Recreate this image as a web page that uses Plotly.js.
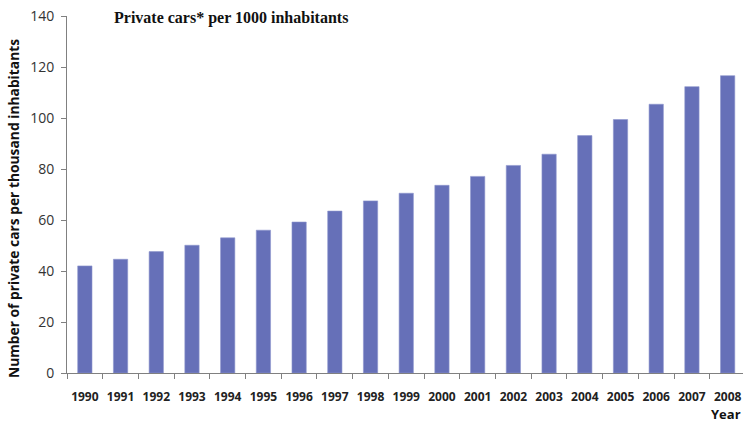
<!DOCTYPE html>
<html>
<head>
<meta charset="utf-8">
<script src="https://cdn.plot.ly/plotly-3.0.1.min.js"></script>
<style>html,body{margin:0;padding:0;background:#fff;}#chart{width:743px;height:422px;}</style>
</head>
<body>
<div id="chart"></div>
<script>
const years = ["1990","1991","1992","1993","1994","1995","1996","1997","1998","1999","2000","2001","2002","2003","2004","2005","2006","2007","2008"];
const carsPer1000 = [42, 44.6, 47.6, 50.1, 53, 56, 59.2, 63.5, 67.5, 70.5, 73.6, 77.1, 81.4, 85.8, 93.1, 99.4, 105.4, 112.3, 116.6];
const yTicks = [0, 20, 40, 60, 80, 100, 120, 140];
const chartTitle = "Private cars* per 1000 inhabitants";
const yTitle = "Number of private cars per thousand inhabitants";
const xTitle = "Year";

const trace = {
  type: "bar",
  x: years,
  y: carsPer1000,
  marker: {color: "#6670b8", line: {color: "#8d95cc", width: 0.6}},
  hoverinfo: "x+y"
};

const layout = {
  width: 743, height: 422,
  margin: {l: 67, r: 0, t: 15.5, b: 49.3, pad: 0},
  paper_bgcolor: "#fff", plot_bgcolor: "#fff",
  showlegend: false,
  bargap: 0.6,
  xaxis: {
    type: "category",
    range: [-0.5, 18.43],
    showline: true, linecolor: "#808080", linewidth: 1,
    ticks: "outside", ticklen: 5, tickcolor: "#808080",
    tickson: "boundaries",
    tickangle: 0,
    showgrid: false, zeroline: false,
    tickfont: {family: "Open Sans", size: 12, color: "#222", weight: "bold"},
    ticklabelstandoff: 13
  },
  yaxis: {
    range: [0, 140],
    tickvals: yTicks,
    ticktext: yTicks.map(String),
    showline: true, linecolor: "#808080", linewidth: 1,
    ticks: "outside", ticklen: 5, tickcolor: "#808080",
    showgrid: false, zeroline: false,
    tickfont: {family: "Open Sans", size: 14, color: "#333"},
    ticklabelstandoff: 4
  },
  annotations: [
    {text: chartTitle, xref: "paper", yref: "paper", x: 0.243, y: 1.0, xanchor: "center", yanchor: "middle",
     yshift: -2, showarrow: false, font: {family: "Liberation Serif", size: 16, color: "#111", weight: "bold"}},
    {text: yTitle, xref: "paper", yref: "paper", x: -0.078, y: 0.46, xanchor: "center", yanchor: "middle",
     textangle: -90, showarrow: false, font: {family: "Open Sans", size: 13.8, color: "#111", weight: "bold"}},
    {text: xTitle, xref: "paper", yref: "paper", x: 1.0, y: -0.115, xanchor: "right", yanchor: "middle",
     showarrow: false, font: {family: "Open Sans", size: 13, color: "#111", weight: "bold"}}
  ]
};

Plotly.newPlot("chart", [trace], layout, {displayModeBar: false, staticPlot: true});
</script>
</body>
</html>
